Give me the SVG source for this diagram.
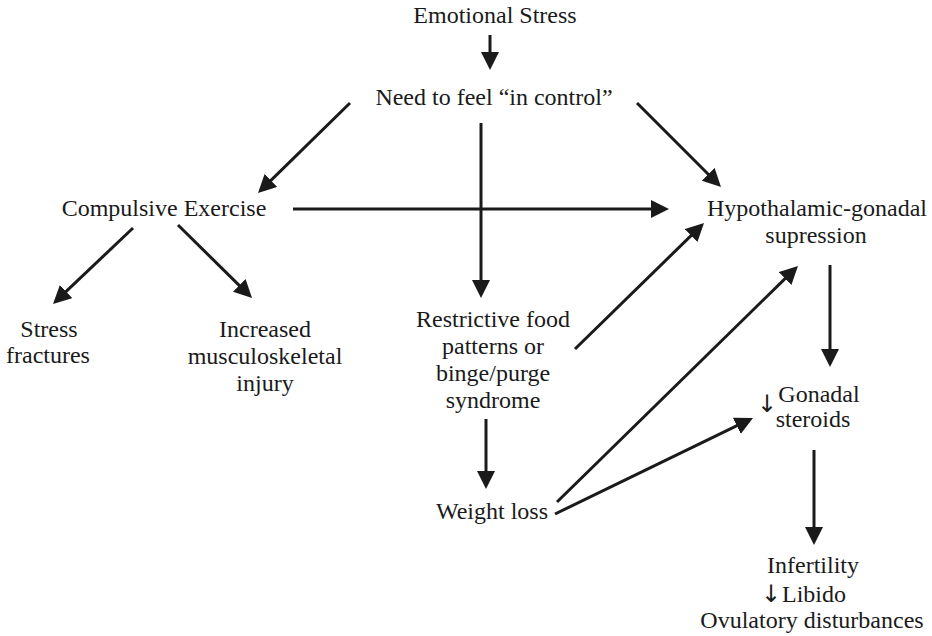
<svg xmlns="http://www.w3.org/2000/svg" width="932" height="636" viewBox="0 0 932 636">
<style>
text{font-family:"Liberation Serif","Times New Roman",serif;font-size:24px;fill:#1a1a1a;text-anchor:middle}
text.sym{font-family:"DejaVu Sans",sans-serif;font-size:24px;font-weight:normal}
.c line{stroke:#1a1a1a;stroke-width:3;marker-end:url(#ah)}
</style>
<defs>
<marker id="ah" markerUnits="userSpaceOnUse" markerWidth="18" markerHeight="18" refX="6" refY="9" orient="auto" viewBox="0 0 18 18">
<path d="M0,0 L18,9 L0,18 z" fill="#1a1a1a"/>
</marker>
</defs>
<rect width="932" height="636" fill="#fff"/>
<g id="connectors" class="c">
<line x1="490" y1="35" x2="490" y2="58"/>
<line x1="350" y1="103" x2="266.6" y2="184.6"/>
<line x1="637" y1="103" x2="712.5" y2="178.5"/>
<line x1="481" y1="123" x2="481" y2="286"/>
<line x1="293" y1="209" x2="657" y2="209"/>
<line x1="133" y1="228" x2="61.7" y2="295.7"/>
<line x1="178" y1="225" x2="243.5" y2="289.6"/>
<line x1="575" y1="349" x2="695.4" y2="231.4"/>
<line x1="486" y1="419" x2="486" y2="477"/>
<line x1="557" y1="502" x2="789.4" y2="274.4"/>
<line x1="555" y1="514" x2="742.2" y2="423.2"/>
<line x1="830" y1="265" x2="830" y2="355"/>
<line x1="814" y1="450" x2="814" y2="533"/>
</g>
<g id="emotional-stress"><text x="495" y="23">Emotional Stress</text></g>
<g id="need-control"><text x="494" y="105">Need to feel “in control”</text></g>
<g id="compulsive-exercise"><text x="164" y="216">Compulsive Exercise</text></g>
<g id="hypothalamic"><text x="817" y="216">Hypothalamic-gonadal</text><text x="816" y="243">supression</text></g>
<g id="stress-fractures"><text x="49" y="337">Stress</text><text x="48" y="363">fractures</text></g>
<g id="musculoskeletal"><text x="265" y="337">Increased</text><text x="265" y="364">musculoskeletal</text><text x="265" y="391">injury</text></g>
<g id="restrictive"><text x="493" y="327">Restrictive food</text><text x="493" y="354">patterns or</text><text x="493" y="381">binge/purge</text><text x="493" y="408">syndrome</text></g>
<g id="weight-loss"><text x="492" y="519">Weight loss</text></g>
<g id="gonadal-steroids"><text class="sym" x="767" y="412">↓</text><text x="819" y="402">Gonadal</text><text x="813" y="427">steroids</text></g>
<g id="outcomes"><text x="813" y="573">Infertility</text><text class="sym" x="771" y="602">↓</text><text x="814" y="602">Libido</text><text x="812" y="628">Ovulatory disturbances</text></g>
</svg>
